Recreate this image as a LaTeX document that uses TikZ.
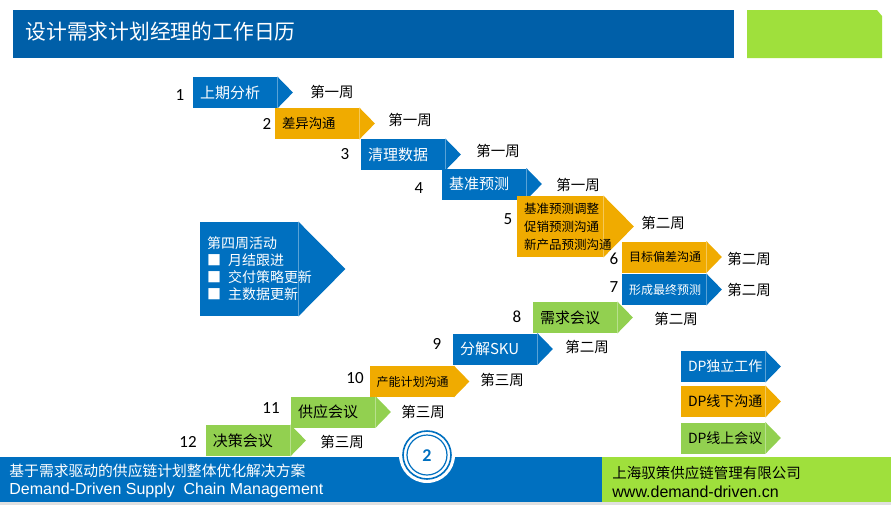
\documentclass[tikz,border=0pt]{standalone}
\usepackage{fontspec}
\setmainfont{Noto Sans CJK SC}
\newfontfamily\numfont{Carlito}
\newfontfamily\latinfont{Liberation Sans}
\usetikzlibrary{backgrounds}
\definecolor{dpblue}{HTML}{0070C0}
\definecolor{hdblue}{HTML}{005FA8}
\definecolor{dporange}{HTML}{F0AB00}
\definecolor{dpgreen}{HTML}{92D050}
\definecolor{hdgreen}{HTML}{9FE03C}
\begin{document}
\begin{tikzpicture}[x=0.5pt,y=-0.5pt]
			\tikzset{stepbox/.style = {rectangle, fill=#1, minimum height=15.5pt, text width=35pt, inner xsep=3.5pt, inner ysep=0pt, align=left, font=\fontsize{7.5}{9}\selectfont}}
			\tikzset{bluestep/.style = {stepbox=dpblue, text=white}}
			\tikzset{orangestep/.style = {stepbox=dporange}}
			\tikzset{greenstep/.style = {stepbox=dpgreen}}
			\tikzset{num/.style = {inner sep=0pt, font=\numfont\fontsize{8.5}{10}\selectfont}}
			\tikzset{week/.style = {inner sep=0pt, font=\fontsize{7.25}{9}\selectfont}}
			\tikzset{small/.style = {font=\fontsize{6}{7}\selectfont}}
			\useasboundingbox (0,0) rectangle (891,505);
			% header
			\fill[hdblue] (13,10) rectangle (734,58);
			\fill[hdgreen] (747,10) -- (877,10) -- (882,16) -- (882,58) -- (747,58) -- cycle;
			\node[anchor=west, inner sep=0pt, text=white, font=\fontsize{10.4}{12}\selectfont] (title) at (25,32) {设计需求计划经理的工作日历};
			% steps
			\node[bluestep] (s1) at (235,92.5) {上期分析};
			\node[orangestep, font=\fontsize{6.7}{8}\selectfont] (s2) at (317,123.5) {差异沟通};
			\node[bluestep] (s3) at (403,154.5) {清理数据};
			\node[bluestep] (s4) at (484,184) {基准预测};
			\node[orangestep, minimum height=30.5pt, text width=36pt, font=\fontsize{6.25}{9}\selectfont] (s5) at (560,226.5) {基准预测调整\\促销预测沟通\\新产品预测沟通};
			\node[orangestep, small] (s6) at (664,257) {目标偏差沟通};
			\node[bluestep, small] (s7) at (664,289.5) {形成最终预测};
			\node[greenstep] (s8) at (575,317.5) {需求会议};
			\node[bluestep] (s9) at (495,349) {分解SKU};
			\node[orangestep, small] (s10) at (411.5,381.5) {产能计划沟通};
			\node[greenstep] (s11) at (333,412) {供应会议};
			\node[greenstep] (s12) at (248,440.5) {决策会议};
			% step numbers
			\node[num] (n1) at (180,95) {1};
			\node[num] (n2) at (267,124) {2};
			\node[num] (n3) at (345,154) {3};
			\node[num] (n4) at (419,188) {4};
			\node[num] (n5) at (508,219) {5};
			\node[num] (n6) at (614,259) {6};
			\node[num] (n7) at (614,287) {7};
			\node[num] (n8) at (517,317) {8};
			\node[num] (n9) at (437,344) {9};
			\node[num] (n10) at (355,378) {10};
			\node[num] (n11) at (271,408) {11};
			\node[num] (n12) at (188,442) {12};
			% weeks
			\node[week] (w1) at (332,92) {第一周};
			\node[week] (w2) at (410,120) {第一周};
			\node[week] (w3) at (498,151) {第一周};
			\node[week] (w4) at (578,185) {第一周};
			\node[week] (w5) at (663,223) {第二周};
			\node[week] (w6) at (749,259) {第二周};
			\node[week] (w7) at (749,290) {第二周};
			\node[week] (w8) at (676,319) {第二周};
			\node[week] (w9) at (587,347) {第二周};
			\node[week] (w10) at (502,380) {第三周};
			\node[week] (w11) at (423,412) {第三周};
			\node[week] (w12) at (342,442) {第三周};
			% fourth week
			\node[bluestep, minimum height=47pt, text width=42pt, font=\fontsize{7}{8.5}\selectfont] (act) at (249,269) {第四周活动\\■\nobreak\hspace{3.5pt}月结跟进\\■\nobreak\hspace{3.5pt}交付策略更新\\■\nobreak\hspace{3.5pt}主数据更新};
			% legend
			\node[bluestep, font=\fontsize{7}{8}\selectfont] (leg1) at (723,366.5) {DP独立工作};
			\node[orangestep, font=\fontsize{7}{8}\selectfont] (leg2) at (723,401.5) {DP线下沟通};
			\node[greenstep, font=\fontsize{7}{8}\selectfont] (leg3) at (723,438) {DP线上会议};
			% arrow tips
			\begin{scope}[on background layer]
				\foreach \s/\c/\t in {s1/dpblue/7.75pt, s2/dporange/7.75pt, s3/dpblue/7.75pt, s4/dpblue/7.75pt, s5/dporange/15.25pt, s6/dporange/7.75pt, s7/dpblue/7.75pt, s8/dpgreen/7.75pt, s9/dpblue/7.75pt, s10/dporange/7.75pt, s11/dpgreen/7.75pt, s12/dpgreen/7.75pt, act/dpblue/23.5pt, leg1/dpblue/7.75pt, leg2/dporange/7.75pt, leg3/dpgreen/7.75pt}
					\fill[\c] (\s.north east) -- ([xshift=\t]\s.east) -- (\s.south east) -- cycle;
			\end{scope}
			% footer
			\fill[dpblue] (0,457) rectangle (602,502);
			\fill[hdgreen] (602,457) rectangle (891,502);
			\fill[black!12] (0,502) rectangle (891,505);
			\fill[white] (427,455) circle (14pt);
			\draw[dpblue, line width=0.8pt] (427,455) circle (12pt);
			\draw[dpblue, line width=0.6pt] (427,455) circle (10pt);
			\node[text=dpblue, font=\numfont\bfseries\fontsize{9}{10}\selectfont] (page) at (427,456) {2};
			\node[anchor=west, inner sep=0pt, text=white, font=\fontsize{7.4}{9}\selectfont] (plan) at (9,471) {基于需求驱动的供应链计划整体优化解决方案};
			\node[anchor=west, inner sep=0pt, text=white, font=\latinfont\fontsize{8}{9}\selectfont] (ddscm) at (9,490) {Demand-Driven Supply~~Chain Management};
			\node[anchor=west, inner sep=0pt, font=\fontsize{7.25}{9}\selectfont] (company) at (612,473) {上海驭策供应链管理有限公司};
			\node[anchor=west, inner sep=0pt, font=\latinfont\fontsize{8}{9}\selectfont] (web) at (612,492) {www.demand-driven.cn};
		\end{tikzpicture}
\end{document}
